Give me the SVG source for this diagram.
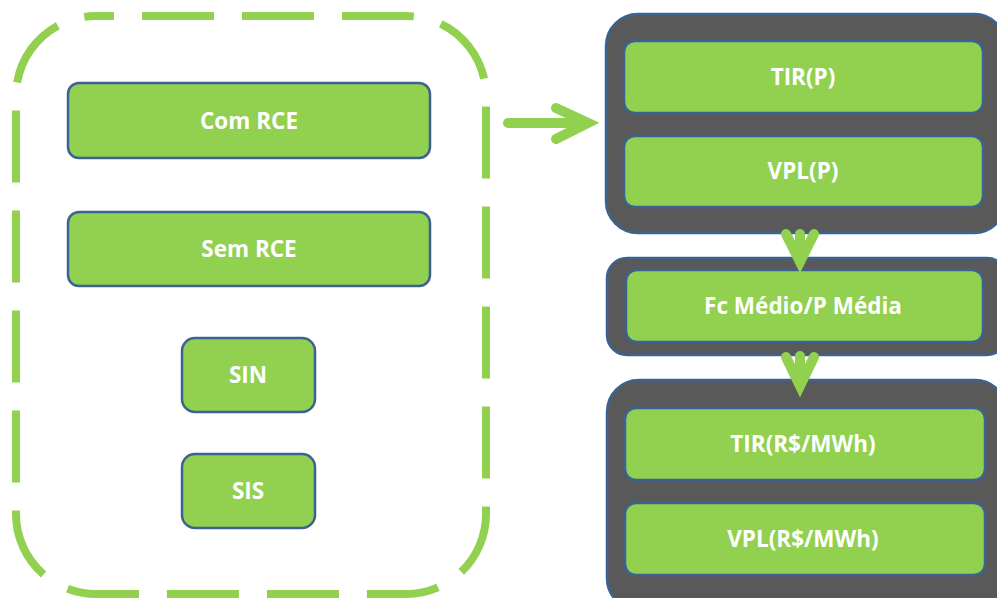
<svg xmlns="http://www.w3.org/2000/svg" width="997" height="598" viewBox="0 0 997 598">
<style>
.box{fill:#92d050;stroke:#3c6291;stroke-width:2.5}
.panel{fill:#595959;stroke:#3c6291;stroke-width:2.5}
.lbl{font-family:"Open Sans","Liberation Sans",Arial,sans-serif;font-weight:bold;font-size:22.5px;fill:#ffffff;text-anchor:middle}
.arr{fill:none;stroke:#92d050;stroke-width:10;stroke-linecap:round;stroke-linejoin:miter}
</style>
<rect width="997" height="598" fill="#ffffff"/>
<g id="container">
<path d="M96 16 H406 A80 80 0 0 1 486 96 V514 A80 80 0 0 1 406 594 H96 A80 80 0 0 1 16 514 V96 A80 80 0 0 1 96 16 Z" fill="none" stroke="#92d050" stroke-width="8" stroke-dasharray="72 28" stroke-dashoffset="54"/>
</g>
<g id="com-rce"><rect class="box" x="68" y="83" width="362" height="75" rx="11"/><text class="lbl" x="249" y="129">Com RCE</text></g>
<g id="sem-rce"><rect class="box" x="68" y="212" width="362" height="74" rx="11"/><text class="lbl" x="249" y="257">Sem RCE</text></g>
<g id="sin"><rect class="box" x="182" y="338" width="133" height="74" rx="13"/><text class="lbl" x="248" y="383">SIN</text></g>
<g id="sis"><rect class="box" x="182" y="454" width="133" height="74" rx="13"/><text class="lbl" x="248" y="499">SIS</text></g>
<g id="panel-p">
<rect class="panel" x="606" y="14" width="400" height="219" rx="32"/>
<g id="tir-p"><rect class="box" x="624" y="41" width="359" height="72" rx="11"/><text class="lbl" x="803" y="85">TIR(P)</text></g>
<g id="vpl-p"><rect class="box" x="624" y="136" width="359" height="71" rx="11"/><text class="lbl" x="803" y="179">VPL(P)</text></g>
</g>
<g id="panel-fc">
<rect class="panel" x="607" y="258" width="400" height="97" rx="20"/>
<g id="fc-medio"><rect class="box" x="626" y="270" width="357" height="72" rx="11"/><text class="lbl" x="803" y="314">Fc Médio/P Média</text></g>
</g>
<g id="panel-rs">
<rect class="panel" x="607" y="380" width="400" height="230" rx="32"/>
<g id="tir-rs"><rect class="box" x="625" y="408" width="360" height="72" rx="11"/><text class="lbl" x="803" y="452">TIR(R$/MWh)</text></g>
<g id="vpl-rs"><rect class="box" x="625" y="503" width="360" height="72" rx="11"/><text class="lbl" x="803" y="547">VPL(R$/MWh)</text></g>
</g>
<g id="connectors">
<path class="arr" d="M508 123 H585" stroke-linecap="butt"/>
<path class="arr" d="M556 108 L588 123 L556 139"/>
<path class="arr" d="M800 234 V258" stroke-linecap="butt"/>
<path class="arr" d="M786 234 L800 262 L814 234"/>
<path class="arr" d="M800 356 V384" stroke-linecap="butt"/>
<path class="arr" d="M786 357 L800 386 L814 357"/>
</g>
</svg>
